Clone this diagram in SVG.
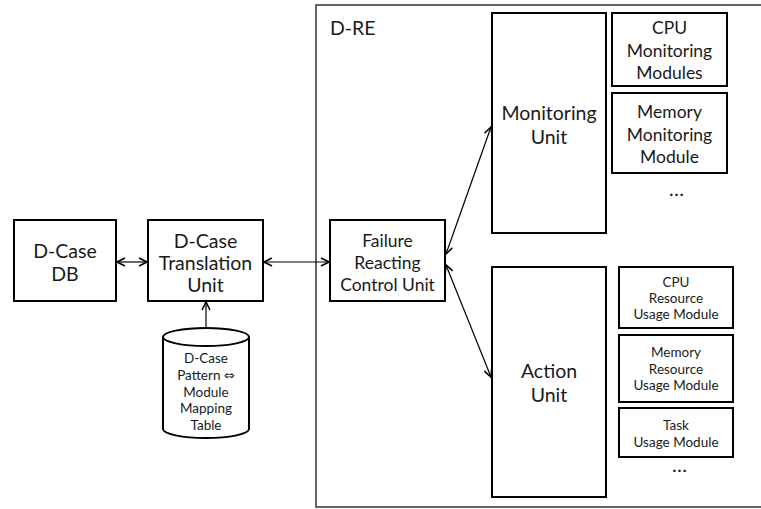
<svg xmlns="http://www.w3.org/2000/svg" width="761" height="509" viewBox="0 0 761 509">
<defs>
<marker id="arr" viewBox="0 0 10 10" refX="9" refY="5" markerWidth="10" markerHeight="10" markerUnits="userSpaceOnUse" orient="auto-start-reverse">
<path d="M1,1 L9,5 L1,9" fill="none" stroke="#000" stroke-width="1.6"/>
</marker>
</defs>
<style>
.box{fill:#fff;stroke:#000;stroke-width:2}
.outer{fill:#fff;stroke:#555;stroke-width:1.8}
.t{font-family:Lato,"Open Sans","Liberation Sans",sans-serif;fill:#1a1a1a;text-anchor:middle}
.big{font-size:19.5px}
.mid{font-size:17.5px}
.sm{font-size:13.5px}
.conn{stroke:#000;stroke-width:1.2;fill:none}
.sym{font-family:"DejaVu Sans",sans-serif;font-size:13px}
.dots{font-size:20px;letter-spacing:1px}
</style>
<rect width="761" height="509" fill="#fff"/>
<g id="d-re">
<rect class="outer" x="316" y="5" width="460" height="502"/>
<text class="t big" x="330" y="35" style="text-anchor:start">D-RE</text>
</g>
<g id="dcase-db">
<rect class="box" x="14" y="220" width="102" height="81"/>
<text class="t big" x="65" y="258">D-Case</text>
<text class="t big" x="65" y="281">DB</text>
</g>
<g id="translation-unit">
<rect class="box" x="148" y="220" width="115" height="81"/>
<text class="t big" x="205.5" y="248">D-Case</text>
<text class="t big" x="205.5" y="270">Translation</text>
<text class="t big" x="205.5" y="292">Unit</text>
</g>
<g id="mapping-table">
<path class="box" d="M163,337 L163,429 A43,9 0 0 0 249,429 L249,337"/>
<ellipse class="box" cx="206" cy="337" rx="43" ry="9"/>
<text class="t sm" x="206" y="363">D-Case</text>
<text class="t sm" x="206" y="380">Pattern <tspan class="sym">⇔</tspan></text>
<text class="t sm" x="206" y="397">Module</text>
<text class="t sm" x="206" y="413">Mapping</text>
<text class="t sm" x="206" y="430">Table</text>
</g>
<g id="frcu">
<rect class="box" x="330" y="220" width="115" height="81"/>
<text class="t mid" x="387.5" y="247">Failure</text>
<text class="t mid" x="387.5" y="269">Reacting</text>
<text class="t mid" x="387.5" y="291">Control Unit</text>
</g>
<g id="monitoring-unit">
<rect class="box" x="492" y="13" width="114" height="220"/>
<text class="t big" x="549" y="120">Monitoring</text>
<text class="t big" x="549" y="144">Unit</text>
</g>
<g id="cpu-monitoring">
<rect class="box" x="612" y="13" width="115" height="73"/>
<text class="t mid" x="669.5" y="34">CPU</text>
<text class="t mid" x="669.5" y="57">Monitoring</text>
<text class="t mid" x="669.5" y="79">Modules</text>
</g>
<g id="memory-monitoring">
<rect class="box" x="612" y="93" width="115" height="80"/>
<text class="t mid" x="669.5" y="118">Memory</text>
<text class="t mid" x="669.5" y="141">Monitoring</text>
<text class="t mid" x="669.5" y="163">Module</text>
</g>
<text class="t dots" x="677" y="196">…</text>
<g id="action-unit">
<rect class="box" x="492" y="267" width="114" height="230"/>
<text class="t big" x="549" y="378">Action</text>
<text class="t big" x="549" y="402">Unit</text>
</g>
<g id="cpu-resource">
<rect class="box" x="619" y="267" width="114" height="61"/>
<text class="t sm" x="676" y="287">CPU</text>
<text class="t sm" x="676" y="303">Resource</text>
<text class="t sm" x="676" y="319">Usage Module</text>
</g>
<g id="memory-resource">
<rect class="box" x="619" y="335" width="114" height="67"/>
<text class="t sm" x="676" y="357">Memory</text>
<text class="t sm" x="676" y="374">Resource</text>
<text class="t sm" x="676" y="390">Usage Module</text>
</g>
<g id="task-usage">
<rect class="box" x="619" y="408" width="114" height="49"/>
<text class="t sm" x="676" y="430">Task</text>
<text class="t sm" x="676" y="447">Usage Module</text>
</g>
<text class="t dots" x="680" y="472">…</text>
<g id="connectors">
<line class="conn" x1="117" y1="262" x2="147" y2="262" marker-start="url(#arr)" marker-end="url(#arr)"/>
<line class="conn" x1="264" y1="262" x2="329" y2="262" marker-start="url(#arr)" marker-end="url(#arr)"/>
<line class="conn" x1="206" y1="328" x2="206" y2="302" marker-end="url(#arr)"/>
<line class="conn" x1="446" y1="254" x2="491" y2="127" marker-start="url(#arr)" marker-end="url(#arr)"/>
<line class="conn" x1="446" y1="265" x2="491" y2="377" marker-start="url(#arr)" marker-end="url(#arr)"/>
</g>
</svg>
